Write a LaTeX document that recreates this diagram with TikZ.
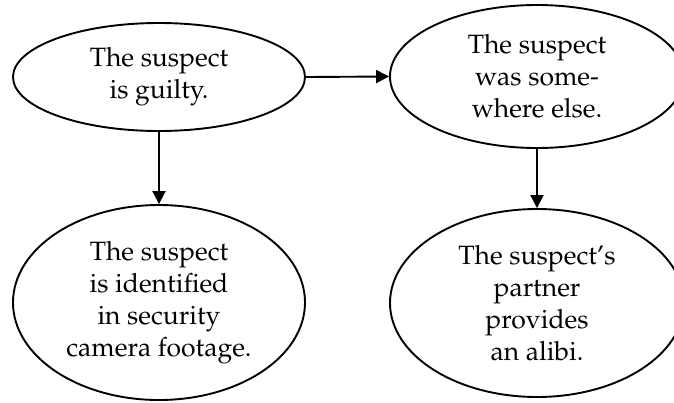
\documentclass[tikz,border=0pt]{standalone}
\usepackage[T1]{fontenc}
\usepackage{mathpazo}
\usetikzlibrary{shapes.geometric,arrows.meta}
\begin{document}
\begin{tikzpicture}[x=1pt,y=-1pt,
  bubble/.style={draw,ellipse,line width=1.9pt,inner sep=0pt,align=center,
    font=\fontsize{26.5}{32}\selectfont},
  conn/.style={line width=1.9pt,-{Triangle[length=13pt,width=13pt]}}]
\useasboundingbox (0,0) rectangle (674,402);
\clip (0,0) rectangle (674,402);
\node[bubble,minimum width=292pt,minimum height=108pt] (a) at (159,77) {The suspect\\is guilty.};
\node[bubble,minimum width=294pt,minimum height=143pt] (b) at (537,76.5) {The suspect\\was some-\\where else.};
\node[bubble,minimum width=292pt,minimum height=195pt] (c) at (159,302.5) {The suspect\\is identified\\in security\\camera footage.};
\node[bubble,minimum width=294pt,minimum height=188pt] (d) at (537,303) {The suspect's\\partner\\provides\\an alibi.};
\draw[conn] (a.east) -- (b.west);
\draw[conn] (a.south) -- (c.north);
\draw[conn] (b.south) -- (d.north);
\end{tikzpicture}
\end{document}
